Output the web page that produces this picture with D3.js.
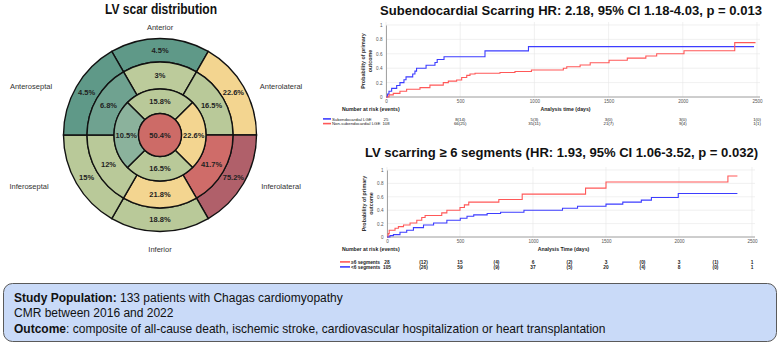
<!DOCTYPE html>
<html>
<head>
<meta charset="utf-8">
<script src="https://cdn.jsdelivr.net/npm/d3@7/dist/d3.min.js"></script>
<style>
  html, body { margin: 0; padding: 0; background: #fff; }
  svg { display: block; font-family: "Liberation Sans", Arial, Helvetica, sans-serif; }
</style>
</head>
<body>
<svg id="chart" width="780" height="345"></svg>
<script>
// ---- Bullseye data (% of patients with scar per segment) ----
const wallNames = ['Anterior', 'Anterolateral', 'Inferolateral', 'Inferior', 'Inferoseptal', 'Anteroseptal']
const basalValues = [4.5, 22.6, 75.2, 18.8, 15, 4.5]
const midValues = [3, 16.5, 41.7, 21.8, 12, 6.8]
const apicalNames = ['Anterior', 'Lateral', 'Inferior', 'Septal']
const apicalValues = [15.8, 22.6, 16.5, 10.5]
const apexValue = 50.4

// ---- KM: subendocardial scarring, [days, cumulative probability] ----
const subendoSteps = [[0, 0], [10, 0.04], [20, 0.08], [38, 0.12], [72, 0.16], [94, 0.20], [121, 0.24], [135, 0.28],
  [180, 0.32], [195, 0.36], [206, 0.40], [270, 0.44], [330, 0.48], [345, 0.52], [391, 0.56], [667, 0.64],
  [960, 0.70], [2480, 0.70]]
const nonSubendoSteps = [[0, 0], [20, 0.03], [49, 0.05], [94, 0.08], [139, 0.107], [229, 0.13], [296, 0.165],
  [386, 0.20], [420, 0.22], [476, 0.236], [510, 0.27], [544, 0.30], [566, 0.32], [600, 0.33], [768, 0.34],
  [869, 0.355], [980, 0.375], [1195, 0.40], [1218, 0.42], [1308, 0.445], [1376, 0.475], [1503, 0.51],
  [1626, 0.54], [1751, 0.57], [1824, 0.60], [2008, 0.643], [2350, 0.755], [2490, 0.755]]
const riskTimesTop = [0, 500, 1000, 1500, 2000, 2500]
const riskSubendo = ['25', '8(14)', '5(3)', '3(0)', '3(0)', '1(0)']
const riskNonSubendo = ['108', '66(25)', '35(11)', '21(7)', '9(4)', '1(1)']

// ---- KM: LV scarring >= 6 segments ----
const ge6Steps = [[0, 0], [8, 0.05], [15, 0.10], [55, 0.13], [78, 0.155], [113, 0.18], [158, 0.21], [204, 0.25],
  [238, 0.29], [261, 0.32], [375, 0.36], [410, 0.40], [500, 0.44], [530, 0.48], [560, 0.52], [766, 0.56],
  [926, 0.64], [1360, 0.73], [1500, 0.82], [2335, 0.91], [2400, 0.91]]
const lt6Steps = [[0, 0], [20, 0.02], [44, 0.035], [89, 0.07], [135, 0.10], [181, 0.14], [250, 0.18], [319, 0.21],
  [410, 0.25], [502, 0.28], [548, 0.31], [594, 0.33], [686, 0.35], [778, 0.37], [938, 0.40], [1202, 0.43],
  [1305, 0.46], [1500, 0.49], [1615, 0.52], [1742, 0.55], [1811, 0.59], [1995, 0.65], [2400, 0.65]]
const riskTimesBottom = [0, 250, 500, 750, 1000, 1250, 1500, 1750, 2000, 2250, 2500]
const riskGe6 = ['28', '(12)', '15', '(4)', '6', '(2)', '3', '(0)', '3', '(1)', '1']
const riskLt6 = ['105', '(26)', '59', '(9)', '37', '(5)', '20', '(4)', '8', '(0)', '1']

const xTicks = [0, 500, 1000, 1500, 2000, 2500]
const yTicks = [0, 0.2, 0.4, 0.6, 0.8, 1]

// ---- styles ----
const basalFill = ['#5f9988', '#f3d590', '#b0606a', '#b9c999', '#b9c999', '#5f9988']
const midFill = ['#bccb9b', '#b9c999', '#cf6c69', '#f3d590', '#b9c999', '#6fa290']
const apicalFill = ['#b9c999', '#f3d590', '#b9c999', '#8bb29c']
const apexFill = '#cd6b67'
const BLUE = '#3d3dff'
const RED = '#ff5858'
const FONT = '"Liberation Sans", Arial, Helvetica, sans-serif'

const svg = d3.select('#chart')

// ================= Bullseye =================
const cx = 160, cy = 135
const radii = [21.5, 46, 73, 96.5]
const deg = Math.PI / 180

svg.append('text')
  .attr('x', 161).attr('y', 13.5)
  .attr('text-anchor', 'middle')
  .attr('font-size', '14px').attr('font-weight', 'bold')
  .attr('textLength', 112).attr('lengthAdjust', 'spacingAndGlyphs')
  .attr('fill', '#111')
  .text('LV scar distribution')

const bull = svg.append('g').attr('transform', `translate(${cx},${cy})`)

function ring(values, fills, inner, outer, n, offset) {
  const span = 360 / n
  const segs = values.map((v, i) => ({
    v, fill: fills[i],
    startAngle: (offset + i * span) * deg,
    endAngle: (offset + (i + 1) * span) * deg,
    innerRadius: inner, outerRadius: outer
  }))
  const arc = d3.arc()
  bull.append('g').selectAll('path').data(segs).join('path')
    .attr('d', arc)
    .attr('fill', d => d.fill)
    .attr('stroke', '#111').attr('stroke-width', 1.4)
  bull.append('g').selectAll('text').data(segs).join('text')
    .attr('x', d => arc.centroid(d)[0])
    .attr('y', d => arc.centroid(d)[1] + 2.6)
    .attr('text-anchor', 'middle')
    .attr('font-size', '7.5px').attr('font-weight', 'bold')
    .attr('fill', '#222')
    .text(d => d.v + '%')
}

ring(basalValues, basalFill, radii[2], radii[3], 6, -30)
ring(midValues, midFill, radii[1], radii[2], 6, -30)
ring(apicalValues, apicalFill, radii[0], radii[1], 4, -45)

bull.append('circle').attr('r', radii[0])
  .attr('fill', apexFill).attr('stroke', '#111').attr('stroke-width', 1.4)
bull.append('text').attr('y', 2.6)
  .attr('text-anchor', 'middle')
  .attr('font-size', '7.5px').attr('font-weight', 'bold').attr('fill', '#222')
  .text(apexValue + '%')

// wall names round the plot
const wallLabelPos = [[0, -108], [121, -49], [121, 51], [0, 114], [-131, 51], [-129, -49]]
bull.append('g').selectAll('text').data(wallNames).join('text')
  .attr('x', (d, i) => wallLabelPos[i][0])
  .attr('y', (d, i) => wallLabelPos[i][1] + 2.5)
  .attr('text-anchor', 'middle')
  .attr('font-size', '7.5px').attr('fill', '#333')
  .text(d => d)

// ================= KM charts =================
function drawKM(o) {
  const g = svg.append('g')
  const x = d3.scaleLinear().domain([0, 2500]).range([o.x0, o.x1])
  const y = d3.scaleLinear().domain([0, 1]).range([o.y0, o.y1])

  g.append('text')
    .attr('x', o.titleX).attr('y', o.titleY)
    .attr('font-size', '13px').attr('font-weight', 'bold').attr('fill', '#111')
    .attr('textLength', o.titleW).attr('lengthAdjust', 'spacingAndGlyphs')
    .text(o.title)

  // grid
  g.append('g').selectAll('line').data(xTicks).join('line')
    .attr('x1', d => x(d)).attr('x2', d => x(d))
    .attr('y1', o.y0).attr('y2', o.y1 - 3)
    .attr('stroke', '#e6e6e6').attr('stroke-width', 0.6)
  g.append('g').selectAll('line').data(yTicks).join('line')
    .attr('x1', o.x0).attr('x2', o.x1 + 3)
    .attr('y1', d => y(d)).attr('y2', d => y(d))
    .attr('stroke', '#e6e6e6').attr('stroke-width', 0.6)

  // axes
  g.append('g').attr('transform', `translate(0,${o.y0})`)
    .call(d3.axisBottom(x).tickValues(xTicks).tickSize(0).tickPadding(2.5).tickFormat(d3.format('d')))
    .call(a => {
      a.select('.domain').attr('stroke', '#9a9a9a').attr('stroke-width', 0.9)
        .attr('d', `M${o.x0},0H${o.x1 + 3}`)
      a.selectAll('.tick text').attr('font-size', '4.6px').attr('fill', '#555').attr('font-family', FONT)
    })
  g.append('g').attr('transform', `translate(${o.x0},0)`)
    .call(d3.axisLeft(y).tickValues(yTicks).tickSize(0).tickPadding(3.5).tickFormat(d3.format('~g')))
    .call(a => {
      a.select('.domain').attr('stroke', '#9a9a9a').attr('stroke-width', 0.9)
      a.selectAll('.tick text').attr('font-size', '4.6px').attr('fill', '#555').attr('font-family', FONT)
    })

  // y axis title
  const ym = (o.y0 + o.y1) / 2
  const yt = g.append('text')
    .attr('transform', `translate(${o.x0 - 21},${ym}) rotate(-90)`)
    .attr('text-anchor', 'middle')
    .attr('font-size', '5.4px').attr('font-weight', 'bold').attr('fill', '#333')
  yt.append('tspan').attr('x', 0).attr('dy', 0).text('Probability of primary')
  yt.append('tspan').attr('x', 0).attr('dy', 6.5).text('outcome')

  // curves
  const line = d3.line().x(d => x(d[0])).y(d => y(d[1])).curve(d3.curveStepAfter)
  o.series.forEach(s => {
    g.append('path').datum(s.steps)
      .attr('d', line)
      .attr('fill', 'none').attr('stroke', s.color).attr('stroke-width', 1.1)
  })

  // risk table
  g.append('text')
    .attr('x', o.riskLabelX).attr('y', o.riskTitleY)
    .attr('font-size', '5.2px').attr('font-weight', 'bold').attr('fill', '#222')
    .text('Number at risk (events)')
  g.append('text')
    .attr('x', (o.x0 + o.x1) / 2 - 6).attr('y', o.riskTitleY)
    .attr('text-anchor', 'middle')
    .attr('font-size', '5.2px').attr('font-weight', 'bold').attr('fill', '#222')
    .text(o.xTitle)

  o.series.forEach((s, r) => {
    const ry = o.rowY[r]
    g.append('line')
      .attr('x1', o.legendX).attr('x2', o.legendX + o.legendW)
      .attr('y1', ry - 1.6).attr('y2', ry - 1.6)
      .attr('stroke', s.color).attr('stroke-width', 1.6)
    g.append('text')
      .attr('x', o.legendX + o.legendW + 1).attr('y', ry)
      .attr('font-size', o.tableFont).attr('font-weight', o.tableWeight).attr('fill', '#222')
      .text(s.name)
    g.append('g').selectAll('text').data(s.risk).join('text')
      .attr('x', (d, i) => x(o.riskTimes[i]))
      .attr('y', ry)
      .attr('text-anchor', 'middle')
      .attr('font-size', o.tableFont).attr('font-weight', o.tableWeight).attr('fill', '#222')
      .text(d => d)
  })
}

drawKM({
  x0: 386, x1: 757, y0: 97, y1: 25,
  title: 'Subendocardial Scarring HR: 2.18, 95% CI 1.18-4.03, p = 0.013',
  titleX: 380, titleY: 14.5, titleW: 382,
  xTitle: 'Analysis time (days)',
  riskLabelX: 342, riskTitleY: 111,
  legendX: 323, legendW: 8, rowY: [120.5, 125.2],
  tableFont: '4.3px', tableWeight: 'normal',
  riskTimes: riskTimesTop,
  series: [
    { name: 'Subendocardial LGE', color: BLUE, steps: subendoSteps, risk: riskSubendo },
    { name: 'Non-subendocardial LGE', color: RED, steps: nonSubendoSteps, risk: riskNonSubendo }
  ]
})

drawKM({
  x0: 387, x1: 752, y0: 237, y1: 170,
  title: 'LV scarring \u2265 6 segments (HR: 1.93, 95% CI 1.06-3.52, p = 0.032)',
  titleX: 365, titleY: 156.5, titleW: 393,
  xTitle: 'Analysis Time (days)',
  riskLabelX: 342, riskTitleY: 251,
  legendX: 340, legendW: 10, rowY: [263.5, 268.5],
  tableFont: '4.8px', tableWeight: 'bold',
  riskTimes: riskTimesBottom,
  series: [
    { name: '\u22656 segments', color: RED, steps: ge6Steps, risk: riskGe6 },
    { name: '<6 segments', color: BLUE, steps: lt6Steps, risk: riskLt6 }
  ]
})

// ================= Study box =================
const box = svg.append('g')
box.append('rect')
  .attr('x', 3.5).attr('y', 283.5).attr('width', 773).attr('height', 58).attr('rx', 9)
  .attr('fill', '#c9daf8').attr('stroke', '#5a5a5a').attr('stroke-width', 1)

const boxLines = [
  [['Study Population:', true], [' 133 patients with Chagas cardiomyopathy', false]],
  [['CMR between 2016 and 2022', false]],
  [['Outcome', true], [': composite of all-cause death, ischemic stroke, cardiovascular hospitalization or heart transplantation', false]]
]
const boxLineWidth = [null, null, 592]
boxLines.forEach((parts, i) => {
  const lg = box.append('g').attr('transform', `translate(14,${301.5 + i * 15.5})`)
  const t = lg.append('text').attr('font-size', '12px').attr('fill', '#111')
  parts.forEach(p => t.append('tspan').attr('font-weight', p[1] ? 'bold' : 'normal').text(p[0]))
  if (boxLineWidth[i]) {
    // the long line is set a little narrower in the reference
    const k = boxLineWidth[i] / t.node().getBBox().width
    lg.attr('transform', `translate(14,${301.5 + i * 15.5}) scale(${k},1)`)
  }
})
</script>
</body>
</html>
